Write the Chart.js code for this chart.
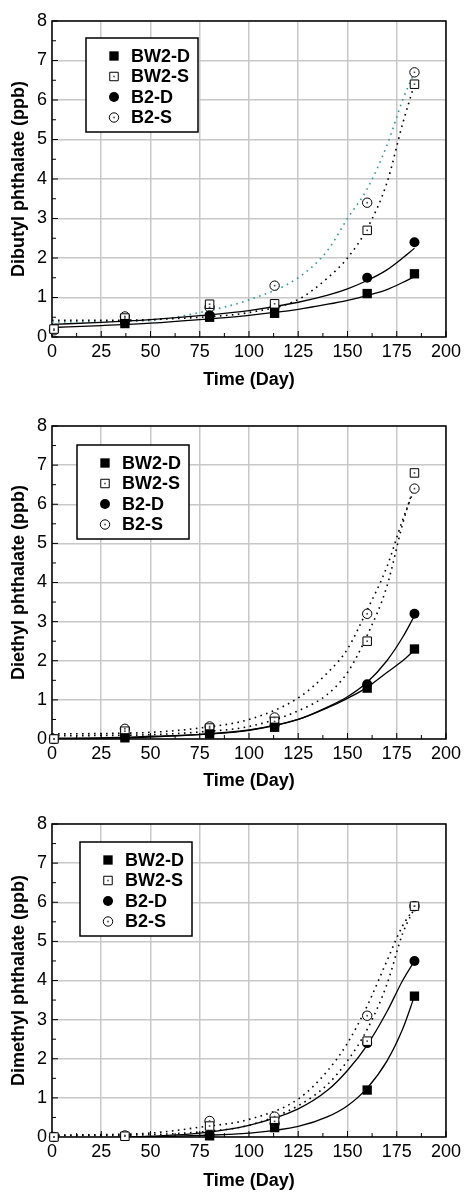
<!DOCTYPE html>
<html>
<head>
<meta charset="utf-8">
<script src="https://cdn.jsdelivr.net/npm/chart.js@4.4.1/dist/chart.umd.min.js"></script>
<style>
  body { margin: 0; background: #fff; }
  .panel { position: absolute; left: 0; width: 465px; }
</style>
</head>
<body>
<div class="panel" style="top:0px"><canvas id="c1" width="465" height="396"></canvas></div>
<div class="panel" style="top:400px"><canvas id="c2" width="465" height="396"></canvas></div>
<div class="panel" style="top:797px"><canvas id="c3" width="465" height="396"></canvas></div>
<script>
// sampling days and names
const sampleDays = [1, 37, 80, 113, 160, 184];
const fitDays = [0, 25, 50, 75, 100, 125, 140, 150, 160, 170, 178, 184];
const seriesNames = ['BW2-D', 'BW2-S', 'B2-D', 'B2-S'];
const xTickValues = [0, 25, 50, 75, 100, 125, 150, 175, 200];
const yTickValues = [0, 1, 2, 3, 4, 5, 6, 7, 8];

// Dibutyl phthalate (ppb)
const dbpBW2D = [null, 0.34, 0.5, 0.6, 1.1, 1.6];
const dbpBW2S = [0.2, 0.48, 0.83, 0.84, 2.7, 6.4];
const dbpB2D = [null, 0.38, 0.55, 0.76, 1.5, 2.4];
const dbpB2S = [0.17, 0.52, 0.75, 1.3, 3.4, 6.7];
const dbpFitBW2D = [0.24, 0.29, 0.35, 0.44, 0.55, 0.70, 0.83, 0.93, 1.05, 1.2, 1.38, 1.53];
const dbpFitBW2S = [0.42, 0.42, 0.44, 0.5, 0.62, 0.95, 1.5, 2.0, 2.75, 3.9, 5.4, 6.4];
const dbpFitB2D = [0.32, 0.37, 0.44, 0.54, 0.67, 0.88, 1.06, 1.22, 1.43, 1.7, 2.0, 2.25];
const dbpFitB2S = [0.38, 0.39, 0.42, 0.62, 0.94, 1.5, 2.2, 3.0, 3.75, 4.85, 6.0, 6.7];

// Diethyl phthalate (ppb)
const depBW2D = [null, 0.03, 0.13, 0.3, 1.3, 2.3];
const depBW2S = [0.0, 0.2, 0.28, 0.45, 2.5, 6.8];
const depB2D = [null, 0.05, 0.15, 0.35, 1.4, 3.2];
const depB2S = [0.0, 0.26, 0.32, 0.55, 3.2, 6.4];
const depFitBW2D = [0.02, 0.03, 0.07, 0.12, 0.23, 0.5, 0.8, 1.04, 1.32, 1.7, 2.0, 2.27];
const depFitBW2S = [0.08, 0.09, 0.11, 0.18, 0.32, 0.72, 1.15, 1.7, 2.65, 3.9, 5.5, 6.5];
const depFitB2D = [0.0, 0.02, 0.05, 0.11, 0.22, 0.5, 0.82, 1.08, 1.45, 2.0, 2.6, 3.15];
const depFitB2S = [0.13, 0.14, 0.17, 0.28, 0.5, 1.05, 1.7, 2.3, 3.3, 4.4, 5.6, 6.4];

// Dimethyl phthalate (ppb)
const dmpBW2D = [null, null, 0.03, 0.24, 1.2, 3.6];
const dmpBW2S = [0.0, 0.02, 0.28, 0.4, 2.45, 5.9];
const dmpB2D = [null, null, 0.05, 0.35, 2.4, 4.5];
const dmpB2S = [0.0, 0.04, 0.41, 0.52, 3.1, 5.9];
const dmpFitBW2D = [-0.02, -0.02, 0.0, 0.04, 0.1, 0.27, 0.52, 0.8, 1.25, 1.94, 2.76, 3.6];
const dmpFitBW2S = [0.04, 0.04, 0.06, 0.13, 0.3, 0.8, 1.35, 1.95, 2.75, 3.9, 5.2, 5.85];
const dmpFitB2D = [-0.03, -0.02, 0.02, 0.1, 0.3, 0.72, 1.2, 1.7, 2.35, 3.2, 4.0, 4.5];
const dmpFitB2S = [0.05, 0.06, 0.1, 0.25, 0.45, 0.97, 1.7, 2.4, 3.35, 4.5, 5.4, 5.85];

Chart.defaults.font.family = 'Arial, "Liberation Sans", sans-serif';
Chart.defaults.color = '#000';

const markerStyles = [
    { pointStyle: 'rect', pointRadius: 6.6, pointBackgroundColor: '#000', pointBorderWidth: 0 },
    { pointStyle: 'rect', pointRadius: 6.0, pointBackgroundColor: '#fff', pointBorderWidth: 1, centerDot: true },
    { pointStyle: 'circle', pointRadius: 5.0, pointBackgroundColor: '#000', pointBorderWidth: 0 },
    { pointStyle: 'circle', pointRadius: 4.7, pointBackgroundColor: '#fff', pointBorderWidth: 1, centerDot: true }
];

const frame = {
    id: 'frame',
    beforeDatasetsDraw(chart) {
        const { ctx, chartArea: a, scales: { x, y } } = chart;
        ctx.save();
        ctx.strokeStyle = '#000';
        ctx.lineWidth = 1.5;
        ctx.strokeRect(a.left, a.top, a.right - a.left, a.bottom - a.top);
        ctx.lineWidth = 1;
        ctx.beginPath();
        for (let v = 0; v <= 200; v += 12.5) {
            const px = x.getPixelForValue(v);
            const len = v % 25 === 0 ? 6 : 4;
            ctx.moveTo(px, a.bottom);
            ctx.lineTo(px, a.bottom - len);
        }
        for (let v = 0; v <= 8; v += 0.5) {
            const py = y.getPixelForValue(v);
            const len = v % 1 === 0 ? 6 : 4;
            ctx.moveTo(a.left, py);
            ctx.lineTo(a.left + len, py);
        }
        ctx.stroke();
        ctx.restore();
    }
};

// small dot in the middle of the open markers
const centerDots = {
    id: 'centerDots',
    afterDatasetsDraw(chart) {
        const ctx = chart.ctx;
        ctx.save();
        ctx.fillStyle = '#444';
        chart.data.datasets.forEach((ds, i) => {
            if (!ds.centerDot) return;
            chart.getDatasetMeta(i).data.forEach(pt => {
                if (pt.skip || isNaN(pt.y)) return;
                ctx.fillRect(pt.x - 0.8, pt.y - 0.8, 1.6, 1.6);
            });
        });
        ctx.restore();
    }
};

const boxLegend = {
    id: 'boxLegend',
    afterDatasetsDraw(chart, args, opts) {
        const { ctx, chartArea: a } = chart;
        const bx = a.left + opts.dx, by = a.top + opts.dy;
        ctx.save();
        ctx.fillStyle = '#fff';
        ctx.fillRect(bx, by, 112, 94);
        ctx.strokeStyle = '#000';
        ctx.lineWidth = 1.5;
        ctx.strokeRect(bx, by, 112, 94);
        seriesNames.forEach((name, i) => {
            const ds = chart.data.datasets[i];
            const cx = bx + 28, cy = by + 18 + i * 20.5;
            ctx.fillStyle = ds.pointBackgroundColor;
            ctx.strokeStyle = '#000';
            ctx.lineWidth = ds.pointBorderWidth;
            Chart.helpers.drawPoint(ctx, {
                pointStyle: ds.pointStyle, radius: ds.pointRadius, rotation: 0, borderWidth: ds.pointBorderWidth
            }, cx, cy);
            if (ds.centerDot) {
                ctx.fillStyle = '#444';
                ctx.fillRect(cx - 0.8, cy - 0.8, 1.6, 1.6);
            }
            ctx.fillStyle = '#000';
            ctx.font = 'bold 18px Arial, "Liberation Sans", sans-serif';
            ctx.textBaseline = 'middle';
            ctx.fillText(name, bx + 45, cy + 1);
        });
        ctx.restore();
    }
};

function pairs(xs, ys) {
    return xs.map((d, i) => ({ x: d, y: ys[i] }));
}

function makeChart(id, yTitle, points, fits, legendPos, layout, b2sColor) {
    const lineStyles = [
        { borderColor: '#000', borderWidth: 1.3, borderDash: [] },
        { borderColor: '#000', borderWidth: 1.6, borderDash: [1.6, 4.4] },
        { borderColor: '#000', borderWidth: 1.3, borderDash: [] },
        { borderColor: b2sColor, borderWidth: 1.6, borderDash: [1.6, 4.4] }
    ];
    const datasets = [];
    points.forEach((p, i) => {
        datasets.push(Object.assign({
            label: seriesNames[i],
            type: 'scatter',
            data: pairs(sampleDays, p),
            showLine: false,
            clip: false,
            pointBorderColor: '#000'
        }, markerStyles[i]));
    });
    fits.forEach((f, i) => {
        datasets.push(Object.assign({
            label: seriesNames[i] + ' fit',
            type: 'line',
            data: pairs(fitDays, f),
            pointRadius: 0,
            fill: false,
            cubicInterpolationMode: 'monotone'
        }, lineStyles[i]));
    });

    const ctx = document.getElementById(id).getContext('2d');
    return new Chart(ctx, {
        type: 'scatter',
        data: { datasets },
        plugins: [frame, centerDots, boxLegend],
        options: {
            responsive: false,
            animation: false,
            events: [],
            layout: { padding: { top: layout.top, left: 8, right: 19, bottom: layout.bottom } },
            plugins: {
                legend: { display: false },
                tooltip: { enabled: false },
                boxLegend: legendPos
            },
            scales: {
                x: {
                    type: 'linear',
                    min: 0,
                    max: 200,
                    afterBuildTicks: (s) => { s.ticks = xTickValues.map(v => ({ value: v })); },
                    afterFit: (s) => { s.height = layout.xh; },
                    ticks: { font: { size: 18 }, padding: 4, maxRotation: 0 },
                    grid: { color: '#c8c8c8', lineWidth: 1.5, drawTicks: false },
                    border: { display: false },
                    title: { display: true, text: 'Time (Day)', font: { size: 18, weight: 'bold' }, padding: { top: 4, bottom: 0 } }
                },
                y: {
                    min: 0,
                    max: 8,
                    afterBuildTicks: (s) => { s.ticks = yTickValues.map(v => ({ value: v })); },
                    afterFit: (s) => { s.width = 44; },
                    ticks: { font: { size: 18 }, padding: 5 },
                    grid: { color: '#c8c8c8', lineWidth: 1.5, drawTicks: false },
                    border: { display: false },
                    title: { display: true, text: yTitle, font: { size: 18, weight: 'bold' }, padding: 0 }
                }
            }
        }
    });
}

makeChart('c1', 'Dibutyl phthalate (ppb)',
    [dbpBW2D, dbpBW2S, dbpB2D, dbpB2S],
    [dbpFitBW2D, dbpFitBW2S, dbpFitB2D, dbpFitB2S],
    { dx: 34, dy: 17 }, { top: 21, xh: 54, bottom: 5 }, '#2a9a9a');

makeChart('c2', 'Diethyl phthalate (ppb)',
    [depBW2D, depBW2S, depB2D, depB2S],
    [depFitBW2D, depFitBW2S, depFitB2D, depFitB2S],
    { dx: 25, dy: 19 }, { top: 26, xh: 53, bottom: 4 }, '#000');

makeChart('c3', 'Dimethyl phthalate (ppb)',
    [dmpBW2D, dmpBW2S, dmpB2D, dmpB2S],
    [dmpFitBW2D, dmpFitBW2S, dmpFitB2D, dmpFitB2S],
    { dx: 28, dy: 18 }, { top: 27, xh: 55, bottom: 1 }, '#000');
</script>
</body>
</html>
